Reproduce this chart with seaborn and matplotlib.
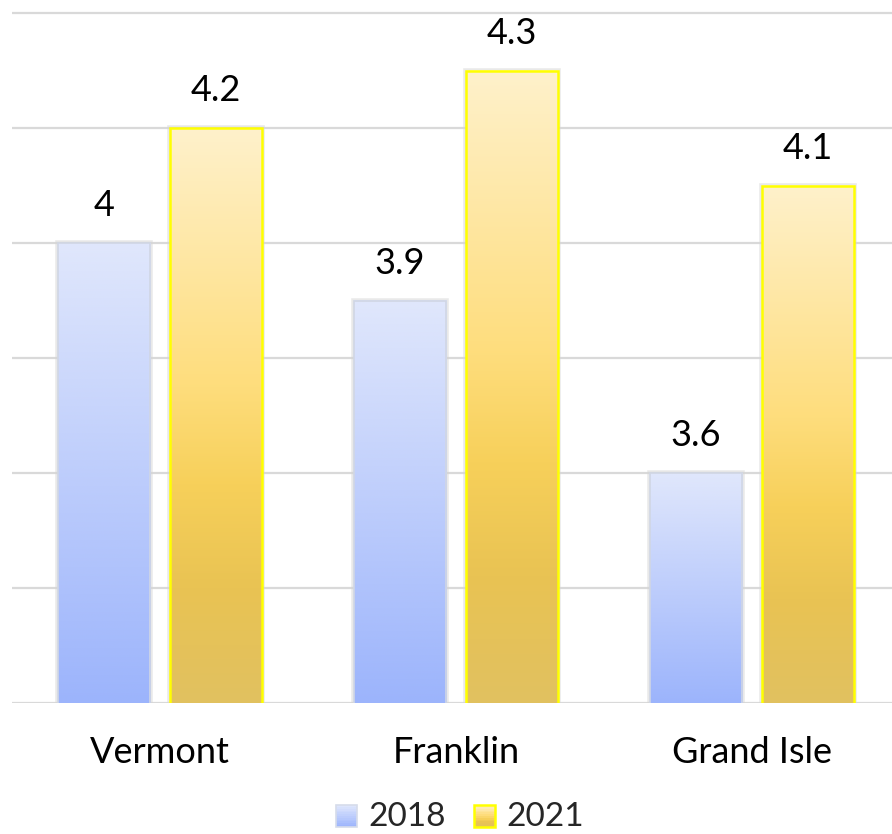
import numpy as np
import pandas as pd
import matplotlib
matplotlib.use("Agg")
import matplotlib.pyplot as plt
import seaborn as sns
from matplotlib.colors import LinearSegmentedColormap
from matplotlib.patches import Rectangle
from matplotlib.legend_handler import HandlerBase

# Data
regions = ["Vermont", "Franklin", "Grand Isle"]
years = ["2018", "2021"]
values_2018 = [4.0, 3.9, 3.6]
values_2021 = [4.2, 4.3, 4.1]

df = pd.DataFrame({
    "region": regions * 2,
    "year": [years[0]] * 3 + [years[1]] * 3,
    "value": values_2018 + values_2021,
})

# Vertical gradient fills (top -> bottom)
blue_cmap = LinearSegmentedColormap.from_list(
    "blue_grad", [(0.0, "#e0e7fc"), (1.0, "#9cb4fc")])
gold_cmap = LinearSegmentedColormap.from_list(
    "gold_grad", [(0.0, "#fff1cb"), (0.45, "#fedd7c"), (0.62, "#f7d05a"),
                  (0.8, "#e9c353"), (1.0, "#e1c160")])
edge_colors = {"2018": "#d0d6e4", "2021": "#ffff00"}
cmaps = {"2018": blue_cmap, "2021": gold_cmap}

sns.set_theme(style="white")
plt.rcParams["font.family"] = ["Lato", "DejaVu Sans"]

FS = 26
Y0 = 3.2
YTOP = 4.4 + 13 / 573.5

fig = plt.figure(figsize=(8.92, 8.34), dpi=100)
ax = fig.add_axes([12 / 892, 131 / 834, 880 / 892, 703 / 834])

sns.barplot(data=df, x="region", y="value", hue="year", order=regions,
            hue_order=years, palette=["#c0cdfb", "#fbd66e"], width=0.76,
            gap=0.18, ax=ax, legend=False, zorder=3)

ax.set_ylim(Y0, YTOP)
ax.set_yticks(np.arange(3.2, 4.41, 0.2))
ax.yaxis.grid(True, color="#d9d9d9", linewidth=1.6, zorder=0)
ax.set_axisbelow(True)
ax.tick_params(axis="y", left=False, labelleft=False)
ax.tick_params(axis="x", bottom=False, labelsize=FS, pad=18, colors="black")
ax.set_xlabel("")
ax.set_ylabel("")
for s in ax.spines.values():
    s.set_visible(False)

grad = np.linspace(0, 1, 256).reshape(-1, 1)
for container, yr in zip(ax.containers, years):
    for bar in container:
        x0, w = bar.get_x(), bar.get_width()
        top = bar.get_y() + bar.get_height()
        # soft shadow around the visible part of each bar
        sh = Rectangle((x0, Y0), w, top - Y0, facecolor="none",
                       edgecolor="#d4d4d4", linewidth=4, alpha=0.5, zorder=2)
        ax.add_patch(sh)
        ax.imshow(grad, cmap=cmaps[yr], aspect="auto",
                  extent=[x0, x0 + w, Y0, top], origin="upper",
                  zorder=3, interpolation="bicubic")
        bar.set_facecolor("none")
        bar.set_edgecolor(edge_colors[yr])
        bar.set_linewidth(1.8 if yr == "2021" else 1.2)
        bar.set_zorder(4)
    ax.bar_label(container, fmt="%g", padding=15, fontsize=FS, color="black")

ax.set_xlim(-0.5, 2.473)
ax.set_ylim(Y0, YTOP)


class GradientHandler(HandlerBase):
    def __init__(self, cmap, edge, lw):
        super().__init__()
        self.cmap, self.edge, self.lw = cmap, edge, lw

    def create_artists(self, legend, orig_handle, xdescent, ydescent,
                       width, height, fontsize, trans):
        side = min(width, height)
        x0 = xdescent + (width - side) / 2
        y0 = -ydescent + (height - side) / 2 - height * 0.08
        arts = []
        n = 12
        for i in range(n):
            c = self.cmap((i + 0.5) / n)
            r = Rectangle((x0, y0 + side * (n - 1 - i) / n), side, side / n,
                          facecolor=c, edgecolor="none", transform=trans)
            arts.append(r)
        arts.append(Rectangle((x0, y0), side, side, facecolor="none",
                              edgecolor=self.edge, linewidth=self.lw,
                              transform=trans))
        return arts


h1 = Rectangle((0, 0), 1, 1)
h2 = Rectangle((0, 0), 1, 1)
fig.legend([h1, h2], years, loc="center", bbox_to_anchor=(460 / 892, 1 - 817 / 834),
           ncol=2, frameon=False, fontsize=24, handlelength=0.64,
           handleheight=0.64, handletextpad=0.33, columnspacing=0.85,
           handler_map={h1: GradientHandler(blue_cmap, "#d6dcea", 1.2),
                        h2: GradientHandler(gold_cmap, "#ffff00", 1.8)})

fig.savefig("out.png", dpi=100, facecolor="white")
